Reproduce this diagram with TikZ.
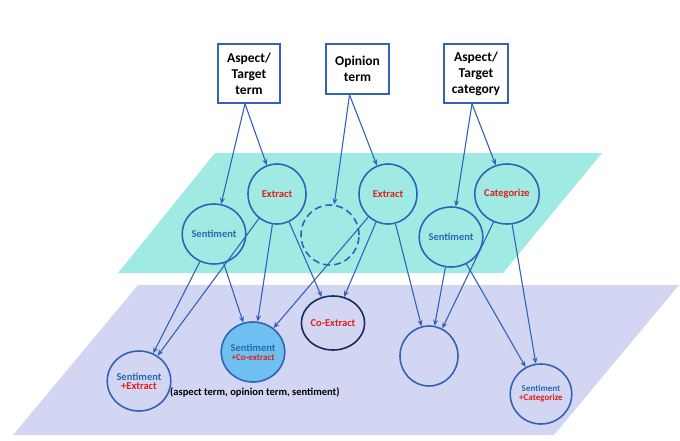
\documentclass[tikz,border=0pt]{standalone}
\usepackage{fontspec}
\setmainfont{Carlito}
\usetikzlibrary{arrows.meta,shapes.geometric}
\definecolor{edge}{HTML}{3462B8}
\definecolor{teal}{HTML}{A0EAE4}
\definecolor{lav}{HTML}{D3D6F3}
\definecolor{sblue}{HTML}{2A6AB0}
\definecolor{rred}{HTML}{E0201B}
\definecolor{fillb}{HTML}{6EC0F0}
\begin{document}
\begin{tikzpicture}[x=1pt,y=-1pt,
  circ/.style={ellipse,draw=edge,line width=1.6pt,minimum width=58pt,minimum height=60pt,inner sep=0pt,font=\bfseries\fontsize{10.5}{11}\selectfont,align=center},
  box/.style={draw=edge,line width=1.6pt,fill=white,font=\bfseries\fontsize{13.5}{16}\selectfont,align=center,inner sep=2pt},
  arr/.style={draw=edge,line width=1.1pt,-{Stealth[length=6pt,width=5pt]}}]
\useasboundingbox (0,0) rectangle (680,440);
\fill[teal] (215,153) -- (602,153) -- (503,273) -- (118,273) -- cycle;
\fill[lav] (138,285) -- (679,285) -- (554,435) -- (13,435) -- cycle;
\node[box,minimum width=62pt,minimum height=59pt] (b1) at (249,73.5) {Aspect/\\Target\\term};
\node[box,minimum width=63pt,minimum height=50pt] (b2) at (357.5,69) {Opinion\\term};
\node[box,minimum width=64pt,minimum height=59pt] (b3) at (476,73.5) {Aspect/\\Target\\category};
\node[circ,text=sblue] (s1) at (214,234) {Sentiment};
\node[circ,text=rred] (e1) at (277,194) {Extract};
\node[circ,dashed,dash pattern=on 7pt off 4pt] (d) at (330,235) {};
\node[circ,text=rred] (e2) at (388,194) {Extract};
\node[circ,text=sblue] (s2) at (451,237) {Sentiment};
\node[circ,text=rred] (c) at (507,194) {Categorize};
\node[circ,minimum width=52pt,minimum height=54pt,draw={rgb,255:red,25;green,45;blue,95},text=rred] (co) at (333,323) {Co-Extract};
\node[circ,fill=fillb,text=sblue] (sc) at (253,352) {Sentiment\\[-2pt]{\color{rred}\fontsize{9}{10}\selectfont+Co-extract}};
\node[circ,text=sblue] (se) at (139,381) {Sentiment\\[-2pt]{\color{rred}+Extract}};
\node[circ] (em) at (429,356) {};
\node[circ,text=sblue,font=\bfseries\fontsize{9}{10}\selectfont] (sg) at (541,394) {Sentiment\\[-1pt]{\color{rred}+Categorize}};
\node[font=\bfseries\fontsize{10.5}{11}\selectfont,anchor=west,inner sep=0pt] (t) at (170,392) {(aspect term, opinion term, sentiment)};
\draw[arr] ([xshift=-4pt]b1.south) -- (s1);
\draw[arr] ([xshift=-4pt]b1.south) -- (e1);
\draw[arr] ([xshift=-8pt]b2.south) -- (d);
\draw[arr] ([xshift=-8pt]b2.south) -- (e2);
\draw[arr] ([xshift=-4pt]b3.south) -- (s2);
\draw[arr] ([xshift=-4pt]b3.south) -- (c);
\draw[arr] (s1) -- (se);
\draw[arr] (s1) -- (sc);
\draw[arr] (e1) -- (se);
\draw[arr] (e1) -- (sc);
\draw[arr] (e1) -- (co);
\draw[arr] (e2) -- (sc);
\draw[arr] (e2) -- (co);
\draw[arr] (e2) -- (em);
\draw[arr] (s2) -- (em);
\draw[arr] (s2) -- (sg);
\draw[arr] (c) -- (em);
\draw[arr] (c) -- (sg);
\end{tikzpicture}
\end{document}
